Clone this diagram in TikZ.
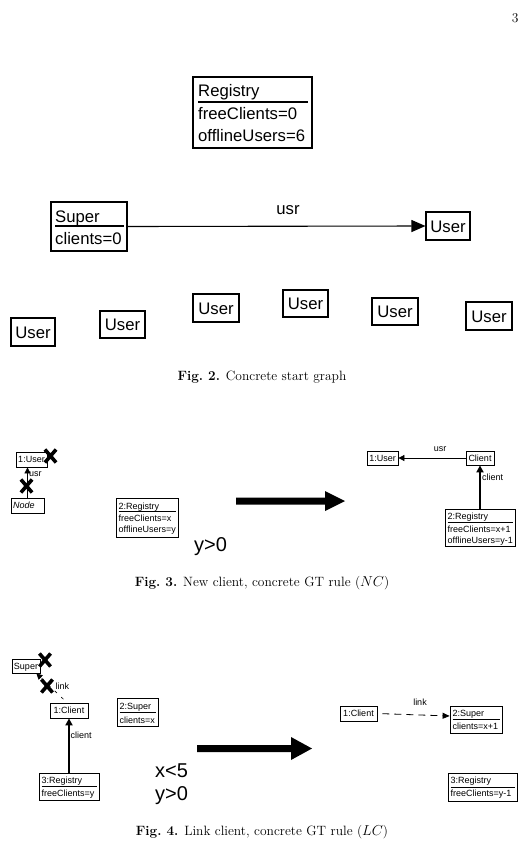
\documentclass[tikz,border=0pt]{standalone}
\usepackage{fontspec}
\newfontfamily\diagfont{Liberation Sans}
\usetikzlibrary{arrows.meta}
\begin{document}
\begin{tikzpicture}[x=1pt,y=-1pt,
  bigfont/.style={font=\diagfont\fontsize{16.7}{18}\selectfont, text height=12pt, text depth=0pt},
  smallfont/.style={font=\diagfont\fontsize{9}{10}\selectfont, text height=6.4pt, text depth=0pt},
  bigbox/.style={draw, line width=1.1pt, inner sep=0pt, bigfont},
  bigtxt/.style={inner sep=0pt, anchor=west, bigfont},
  smallbox/.style={draw, line width=0.8pt, inner sep=0pt, smallfont},
  smalltxt/.style={inner sep=0pt, anchor=west, smallfont},
  sep/.style={line width=0.8pt},
  bigsep/.style={line width=1.1pt},
  thinarrow/.style={line width=0.8pt, -{Triangle[length=6pt,width=6pt]}},
  thickarrow/.style={line width=2.2pt, -{Triangle[length=7pt,width=7pt]}},
  dasharrow/.style={line width=0.8pt, dash pattern=on 7pt off 5pt, dash phase=7pt, -{Triangle[length=7pt,width=6pt]}},
  condtxt/.style={inner sep=0pt, anchor=west, font=\diagfont\fontsize{20}{23}\selectfont, text height=14.3pt, text depth=0pt},
  captxt/.style={inner sep=0pt, font=\fontsize{13.5}{16}\selectfont},
  rulearrow/.style={fill=black},
  nacx/.pic={\draw[line width=3.6pt, line cap=butt] (-5.6,-6.5) -- (5.6,6.5) (-5.6,6.5) -- (5.6,-6.5);}
]
\useasboundingbox (0,0) rectangle (519,859);

% page number
\node[captxt, anchor=east] (pg) at (518.8,18) {3};

% ---------- start graph ----------
\node[bigbox, minimum width=119pt, minimum height=71pt] (reg) at (252.5,112.5) {};
\node[bigtxt] (regT) at (198,90) {Registry};
\draw[bigsep] (198,102) -- (308,102);
\node[bigtxt] (regA) at (198,113) {freeClients=0};
\node[bigtxt] (regB) at (198,135) {offlineUsers=6};

\node[bigbox, minimum width=76pt, minimum height=49pt] (sup) at (89,226.5) {};
\node[bigtxt] (supT) at (55,216) {Super};
\draw[bigsep] (55,226) -- (124,226);
\node[bigtxt] (supA) at (55,238) {clients=0};

\node[bigbox, minimum width=44pt, minimum height=28pt] (utop) at (448,226) {User};
\draw[line width=1.1pt, -{Triangle[length=14pt,width=12pt]}] (sup.east) -- (utop.west);
\node[bigtxt, anchor=center] (usrT) at (288,208) {usr};

\node[bigbox, minimum width=44pt, minimum height=28pt] (ua) at (33,332) {User};
\node[bigbox, minimum width=45pt, minimum height=27pt] (ub) at (122.5,324.5) {User};
\node[bigbox, minimum width=46pt, minimum height=28pt] (uc) at (216,308) {User};
\node[bigbox, minimum width=45pt, minimum height=27pt] (ud) at (305.5,303.5) {User};
\node[bigbox, minimum width=46pt, minimum height=27pt] (ue) at (395,311.5) {User};
\node[bigbox, minimum width=46pt, minimum height=28pt] (uf) at (489,316) {User};

\node[captxt] (cap2) at (262,377) {\textbf{Fig.\ 2.} Concrete start graph};

% ---------- rule NC ----------
\node[smallbox, minimum width=31pt, minimum height=15pt] (u1l) at (31.5,459.5) {1:User};
\node[smallbox, minimum width=33pt, minimum height=15pt] (ndl) at (27.5,505.5) {};
\node[smalltxt] (ndlT) at (13,505.5) {\itshape Node};
\draw[thinarrow] (ndl.north) -- (ndl.north |- u1l.south);
\node[smalltxt] (usrL) at (29,473) {usr};

\node[smallbox, minimum width=62pt, minimum height=39pt] (reg2l) at (147,517.5) {};
\node[smalltxt] at (118.5,506) {2:Registry};
\draw[sep] (118.5,511.5) -- (176,511.5);
\node[smalltxt] at (118.5,518) {freeClients=x};
\node[smalltxt] at (118.5,529) {offlineUsers=y};

\node[condtxt] (condNC) at (194,544) {y>0};

\fill[rulearrow] (236,497.5) -- (325,497.5) -- (325,491) -- (345,501) -- (325,511) -- (325,504.5) -- (236,504.5) -- cycle;

\node[smallbox, minimum width=31pt, minimum height=14pt] (u1r) at (382.5,458) {1:User};
\node[smallbox, minimum width=28pt, minimum height=14pt] (clr) at (480,458) {Client};
\draw[thinarrow] (clr) -- (u1r);
\node[smalltxt, anchor=center] (usrR) at (440,448) {usr};

\node[smallbox, minimum width=70pt, minimum height=37pt] (reg2r) at (480,527.5) {};
\node[smalltxt] at (447.5,516) {2:Registry};
\draw[sep] (447.5,522) -- (513,522);
\node[smalltxt] at (447.5,529) {freeClients=x+1};
\node[smalltxt] at (447.5,540) {offlineUsers=y-1};
\draw[thickarrow] (clr.south |- reg2r.north) -- (clr.south);
\node[smalltxt] (clientR) at (482,477) {client};

\pic at (50.5,456) {nacx};
\pic at (26.5,486) {nacx};

\node[captxt] (cap3) at (262,583) {\textbf{Fig.\ 3.} New client, concrete GT rule ($NC$)};

% ---------- rule LC ----------
\node[smallbox, minimum width=28pt, minimum height=14pt] (sl) at (26,666) {Super};
\node[smallbox, minimum width=38pt, minimum height=15pt] (c1l) at (69,710.5) {1:Client};
\draw[line width=0.6pt, dash pattern=on 3pt off 6pt, dash phase=4pt, -{Triangle[length=6pt,width=6pt]}] ([xshift=-2pt]c1l.north) -- ([xshift=-4pt]sl.south east);
\node[smalltxt] (linkL) at (55.5,686) {link};

\node[smallbox, minimum width=41pt, minimum height=28pt] (s2l) at (137.5,712) {};
\node[smalltxt] at (119.5,706) {2:Super};
\draw[sep] (119.5,712) -- (156,712);
\node[smalltxt] at (119.5,720) {clients=x};

\node[smallbox, minimum width=60pt, minimum height=27pt] (reg3l) at (69,786.5) {};
\node[smalltxt] at (41.5,780.5) {3:Registry};
\draw[sep] (41.5,786.5) -- (97,786.5);
\node[smalltxt] at (41.5,793.5) {freeClients=y};
\draw[thickarrow] (reg3l) -- (c1l);
\node[smalltxt] (clientL) at (70.5,735) {client};

\pic at (45,660) {nacx};
\pic at (47,686) {nacx};

\node[condtxt] (condLCa) at (155,770) {x<5};
\node[condtxt] (condLCb) at (155,793) {y>0};

\fill[rulearrow] (197,745) -- (291,745) -- (291,737) -- (312,748.5) -- (291,760) -- (291,752) -- (197,752) -- cycle;

\node[smallbox, minimum width=37pt, minimum height=15pt] (c1r) at (358.5,713.5) {1:Client};
\node[smallbox, minimum width=52pt, minimum height=27pt] (s2r) at (476,719.5) {};
\node[smalltxt] at (452.5,713) {2:Super};
\draw[sep] (452.5,719) -- (500,719);
\node[smalltxt] at (452.5,726) {clients=x+1};
\draw[dasharrow] (c1r.east) -- ([yshift=3.5pt]s2r.west);
\node[smalltxt, anchor=center] (linkR) at (420,702) {link};

\node[smallbox, minimum width=69pt, minimum height=28pt] (reg3r) at (482.5,787) {};
\node[smalltxt] at (450.5,780.5) {3:Registry};
\draw[sep] (450.5,787) -- (515,787);
\node[smalltxt] at (450.5,793.5) {freeClients=y-1};

\node[captxt] (cap4) at (262,832) {\textbf{Fig.\ 4.} Link client, concrete GT rule ($LC$)};
\end{tikzpicture}
\end{document}
